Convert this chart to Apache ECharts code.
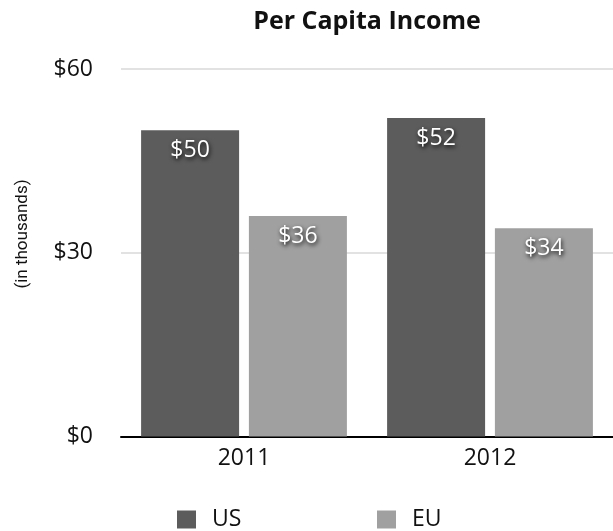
<!DOCTYPE html>
<html>
<head>
<meta charset="utf-8">
<title>Per Capita Income</title>
<script src="https://cdn.jsdelivr.net/npm/echarts@6/dist/echarts.min.js"></script>
<style>
  html, body { margin: 0; padding: 0; background: #ffffff; }
  #chart { width: 613px; height: 531px; }
</style>
</head>
<body>
<div id="chart"></div>
<script>
// Per capita income, in thousands of dollars
const years = ['2011', '2012'];
const usIncome = [50, 52];
const euIncome = [36, 34];
const yTicks = { min: 0, max: 60, interval: 30 };

const FONT = '"Open Sans", "Noto Sans", sans-serif';
const US_COLOR = '#5c5c5c';
const EU_COLOR = '#a0a0a0';

const chart = echarts.init(document.getElementById('chart'), null, { renderer: 'canvas' });

const barLabel = {
  show: true,
  position: 'insideTop',
  distance: 9,
  color: '#ffffff',
  fontFamily: FONT,
  fontSize: 23,
  formatter: p => '$' + p.value,
  textShadowColor: 'rgba(0,0,0,0.9)',
  textShadowBlur: 4,
  textShadowOffsetX: 1,
  textShadowOffsetY: 2
};

const legendBase = {
  top: 503,
  itemWidth: 19,
  itemHeight: 18,
  itemGap: 0,
  icon: 'rect',
  textStyle: { fontFamily: FONT, fontSize: 23, color: '#111111', padding: [0, 0, 0, 11] }
};

chart.setOption({
  animation: false,
  backgroundColor: '#ffffff',
  textStyle: { fontFamily: FONT },
  title: {
    text: 'Per Capita Income',
    left: 362,
    top: 4,
    textAlign: 'center',
    textStyle: { fontFamily: FONT, fontSize: 25, fontWeight: 'bold', color: '#111111' }
  },
  grid: { left: 121, right: 0, top: 69, bottom: 94.5, containLabel: false },
  legend: [
    Object.assign({ data: ['US'], left: 172 }, legendBase),
    Object.assign({ data: ['EU'], left: 372 }, legendBase)
  ],
  xAxis: {
    type: 'category',
    data: years,
    axisLine: { lineStyle: { color: '#000000', width: 2 } },
    axisTick: { show: false },
    axisLabel: { color: '#111111', fontSize: 23, margin: 10, fontFamily: FONT }
  },
  yAxis: {
    type: 'value',
    min: yTicks.min,
    max: yTicks.max,
    interval: yTicks.interval,
    axisLine: { show: false },
    axisTick: { show: false },
    splitLine: { lineStyle: { color: '#d9d9d9', width: 1.5 } },
    axisLabel: {
      color: '#111111', fontSize: 23, margin: 28, fontFamily: FONT,
      formatter: v => '$' + v
    }
  },
  graphic: [
    {
      // vertical unit caption beside the value axis
      type: 'text',
      x: 23, y: 234,
      rotation: Math.PI / 2,
      style: {
        text: '(in thousands)',
        fontFamily: 'Roboto, "Open Sans", sans-serif',
        fontSize: 17,
        fill: '#111111',
        align: 'center',
        verticalAlign: 'middle'
      }
    }
  ],
  series: [
    {
      name: 'US',
      type: 'bar',
      data: usIncome,
      barWidth: 98,
      barGap: '10%',
      itemStyle: { color: US_COLOR },
      label: barLabel
    },
    {
      name: 'EU',
      type: 'bar',
      data: euIncome,
      barWidth: 98,
      barGap: '10%',
      itemStyle: { color: EU_COLOR },
      label: barLabel
    }
  ]
});
</script>
</body>
</html>
